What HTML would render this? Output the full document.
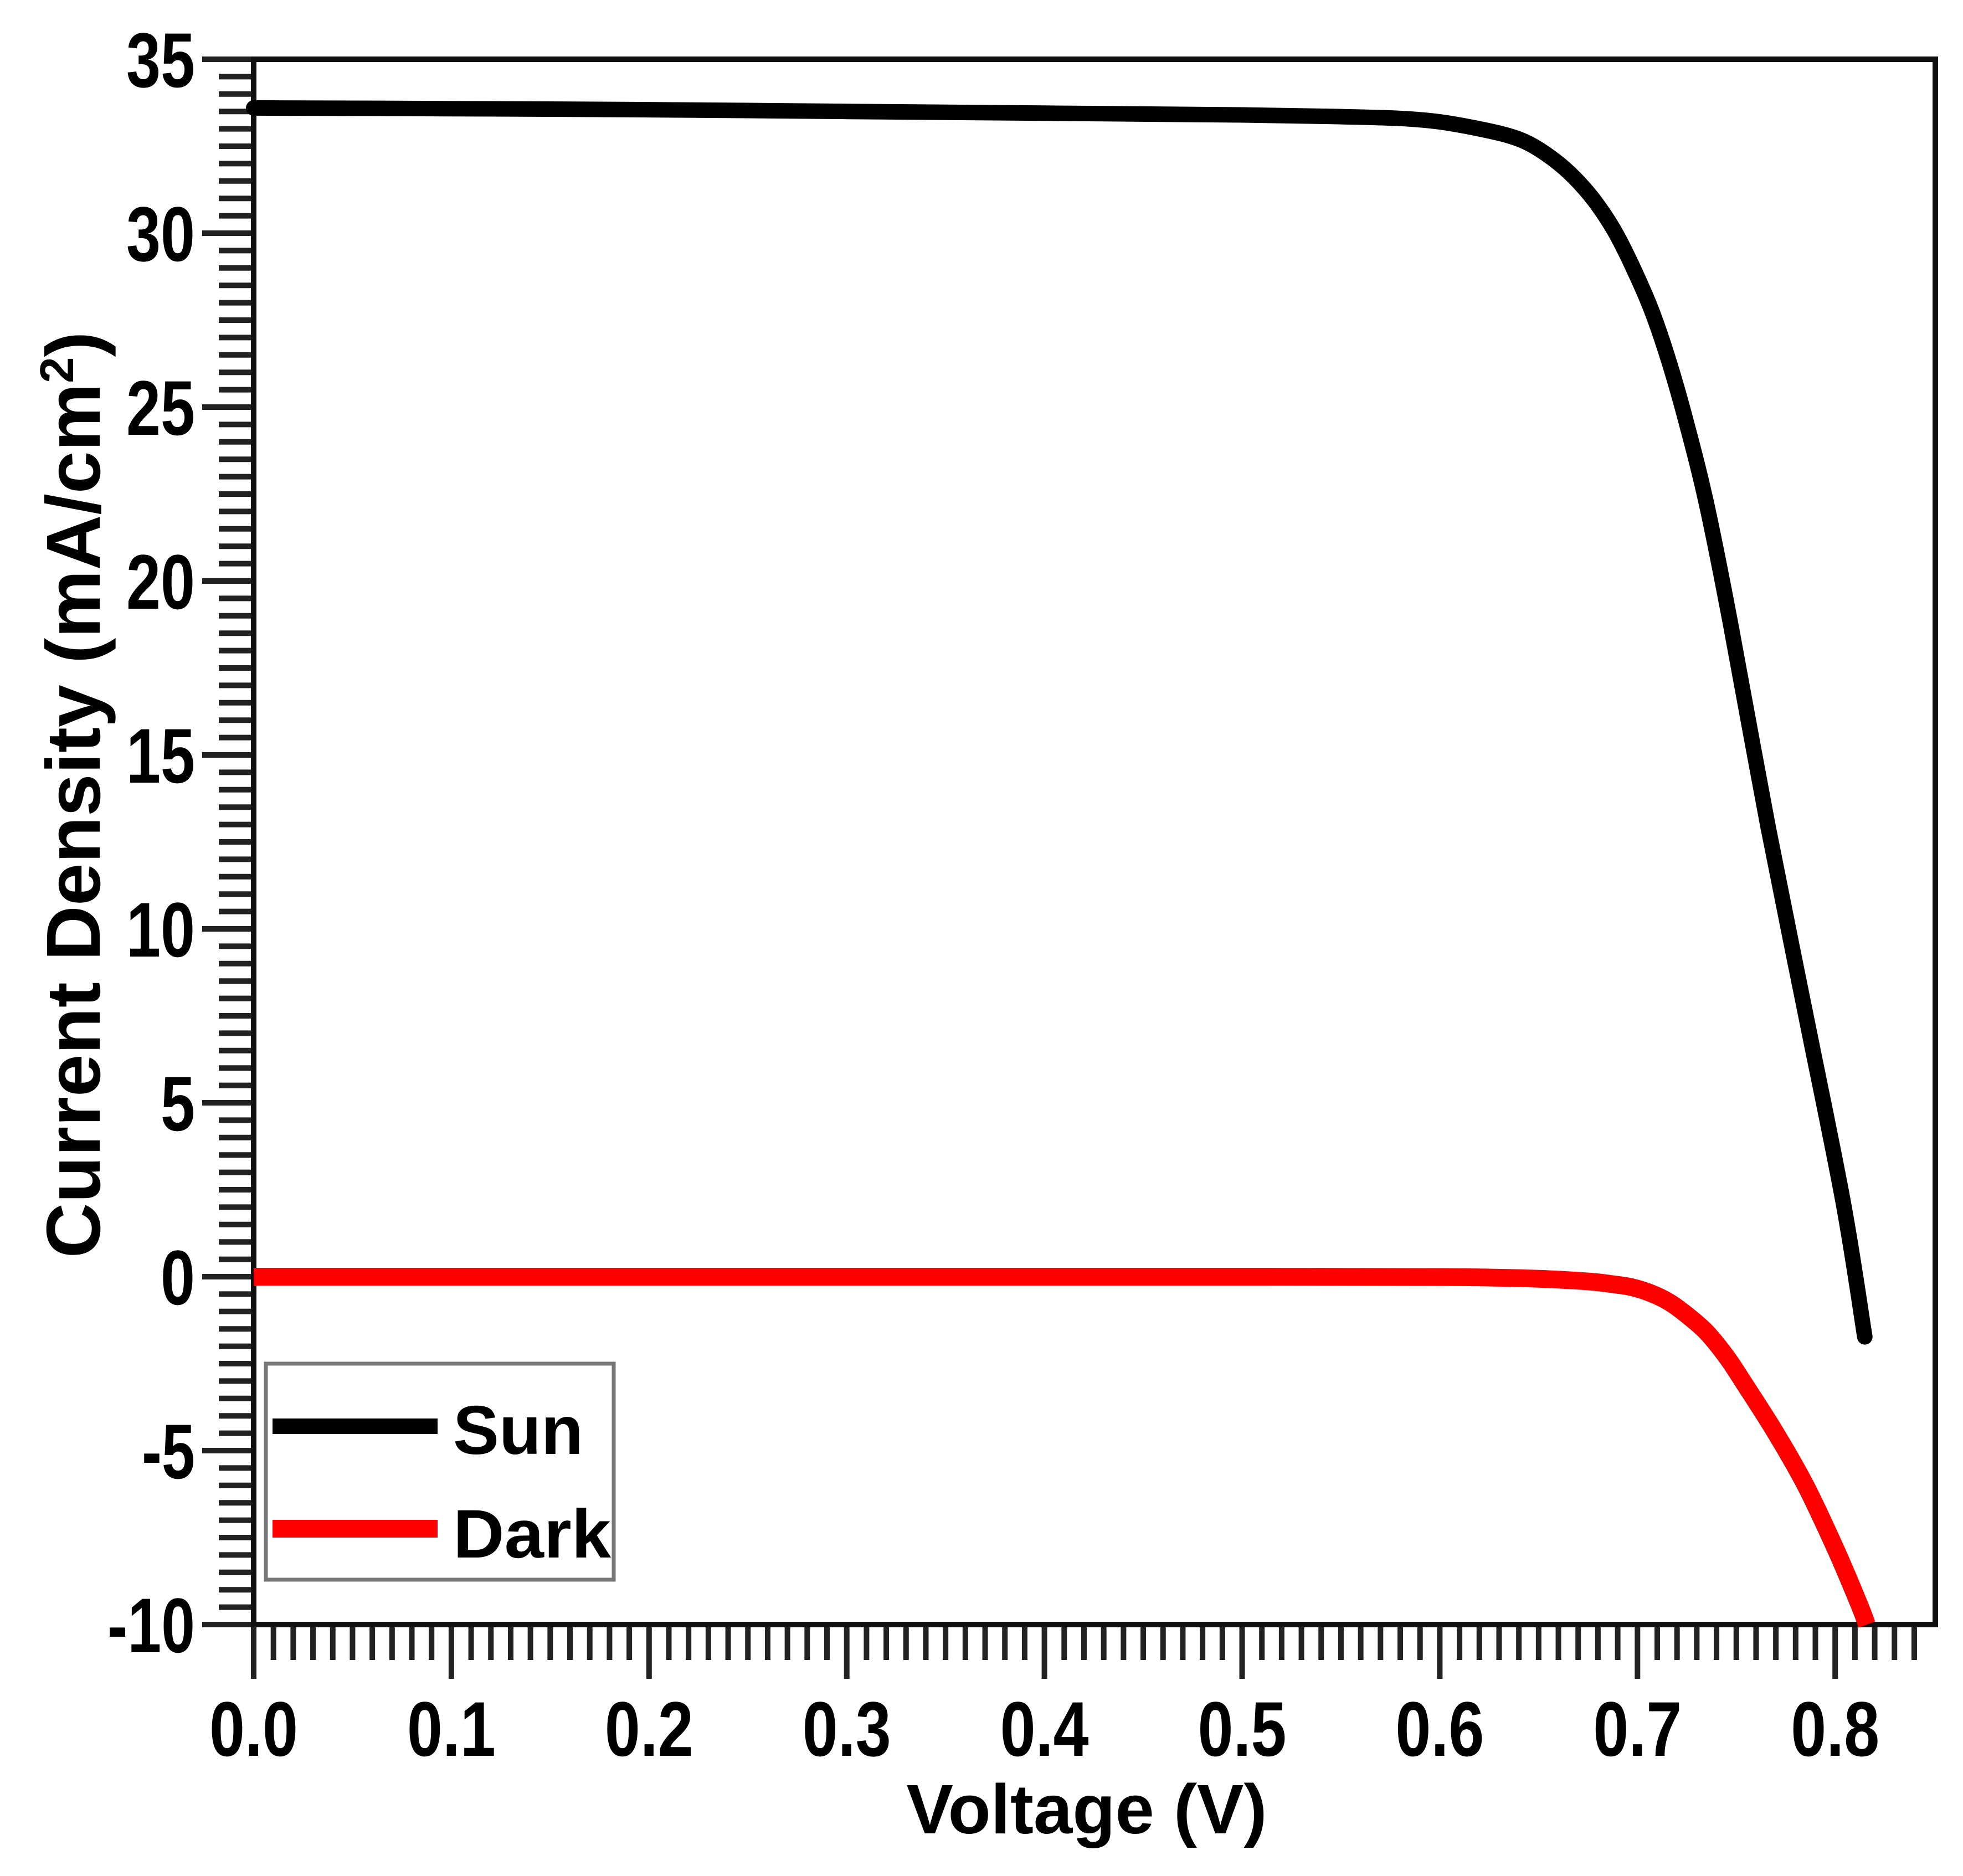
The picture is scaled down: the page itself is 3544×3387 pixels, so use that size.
<!DOCTYPE html>
<html><head><meta charset="utf-8"><style>
html,body{margin:0;padding:0;background:#fff;}
svg{display:block;}
text{font-family:"Liberation Sans",Arial,sans-serif;font-weight:bold;fill:#000;}
</style></head><body>
<svg id="chart" width="3544" height="3387" viewBox="0 0 3544 3387" xmlns="http://www.w3.org/2000/svg">
<g id="plot"></g>
</svg>
<script>
const xTicks = [0,0.1,0.2,0.3,0.4,0.5,0.6,0.7,0.8];
const xTickLabels = ["0.0","0.1","0.2","0.3","0.4","0.5","0.6","0.7","0.8"];
const yTicks = [35,30,25,20,15,10,5,0,-5,-10];
const yTickLabels = ["35","30","25","20","15","10","5","0","-5","-10"];
const sunV = [0,0.1,0.2,0.3,0.4,0.5,0.55,0.58,0.6,0.62,0.635,0.646,0.658,0.668,0.678,0.688,0.697,0.707,0.716,0.725,0.735,0.747,0.766,0.785,0.804,0.815];
const sunJ = [33.6,33.58,33.55,33.5,33.45,33.4,33.35,33.3,33.2,33.0,32.8,32.55,32.1,31.6,30.95,30.1,29.1,27.8,26.3,24.5,22.2,18.8,12.95,7.56,2.16,-1.73];
const darkV = [0,0.1,0.2,0.3,0.4,0.5,0.6,0.63,0.65,0.665,0.678,0.688,0.697,0.707,0.716,0.725,0.735,0.745,0.754,0.77,0.785,0.8,0.812,0.816];
const darkJ = [0,0,0,0,0,0,-0.01,-0.03,-0.06,-0.1,-0.15,-0.22,-0.3,-0.48,-0.73,-1.1,-1.6,-2.3,-3.07,-4.5,-6.0,-7.8,-9.4,-10];

const X0=458, XR=3494, YT=107, YB=2933;
const xScale = v => X0 + v*3569;
const yScale = j => YB - (j+10)*(YB-YT)/45;
const NS="http://www.w3.org/2000/svg";
const g=document.getElementById('plot');
function mk(tag,attrs){const e=document.createElementNS(NS,tag);for(const k in attrs)e.setAttribute(k,attrs[k]);g.appendChild(e);return e;}

for(let i=1;i<=86;i++){
  if(i%10===0) continue;
  const x=xScale(i*0.01); if(x>XR-5) break;
  const t=mk('line',{x1:x,y1:YB,x2:x,y2:YB+64,stroke:'#222','stroke-width':10});
  
  
}
for(let k=-95;k<=345;k+=5){
  if(k%50===0) continue;
  const y=yScale(k/10);
  const t=mk('line',{x1:X0-63,y1:y,x2:X0,y2:y,stroke:'#222','stroke-width':10});
  
  
}
xTicks.forEach((v,i)=>{
  const x=xScale(v);
  const t=mk('line',{x1:x,y1:YB,x2:x,y2:YB+98,stroke:'#222','stroke-width':10});
  
  
  const l=mk('text',{x:x,y:3170,'font-size':140,'text-anchor':'middle',textLength:160,lengthAdjust:'spacingAndGlyphs'});
  l.textContent=xTickLabels[i];
  
  
});
yTicks.forEach((j,i)=>{
  const y=yScale(j);
  const t=mk('line',{x1:X0-93,y1:y,x2:X0,y2:y,stroke:'#222','stroke-width':10});
  
  
  const s=yTickLabels[i];
  let w=0; for(const c of s) w+= (c==='-'?34:62);
  const l=mk('text',{x:352,y:y+50,'font-size':140,'text-anchor':'end',textLength:w,lengthAdjust:'spacingAndGlyphs'});
  l.textContent=s;
  
  
});
const fr=mk('rect',{x:X0,y:YT,width:XR-X0,height:YB-YT,fill:'none',stroke:'#111','stroke-width':10});



function path(V,J){
  const P=V.map((v,i)=>[xScale(v),yScale(J[i])]);
  let d='M'+P[0][0].toFixed(1)+','+P[0][1].toFixed(1);
  for(let i=0;i<P.length-1;i++){
    const p0=P[Math.max(i-1,0)],p1=P[i],p2=P[i+1],p3=P[Math.min(i+2,P.length-1)];
    const c1=[p1[0]+(p2[0]-p0[0])/6,p1[1]+(p2[1]-p0[1])/6];
    const c2=[p2[0]-(p3[0]-p1[0])/6,p2[1]-(p3[1]-p1[1])/6];
    d+=' C'+c1[0].toFixed(1)+','+c1[1].toFixed(1)+' '+c2[0].toFixed(1)+','+c2[1].toFixed(1)+' '+p2[0].toFixed(1)+','+p2[1].toFixed(1);
  }
  return d;
}
const sp=mk('path',{d:path(sunV,sunJ),fill:'none',stroke:'#000','stroke-width':28,'stroke-linejoin':'round','stroke-linecap':'round'});


const dp=mk('path',{d:path(darkV,darkJ),fill:'none',stroke:'#ff0000','stroke-width':32,'stroke-linejoin':'round'});



const lb=mk('rect',{x:480,y:2462,width:628,height:390,fill:'#fff',stroke:'#777','stroke-width':7});


const l1=mk('line',{x1:492,y1:2575,x2:790,y2:2575,stroke:'#000','stroke-width':28});


const t1=mk('text',{x:818,y:2625,'font-size':124,textLength:235,lengthAdjust:'spacingAndGlyphs'});t1.textContent='Sun';


const l2=mk('line',{x1:492,y1:2760,x2:790,y2:2760,stroke:'#ff0000','stroke-width':32});


const t2=mk('text',{x:818,y:2812,'font-size':124,textLength:285,lengthAdjust:'spacingAndGlyphs'});t2.textContent='Dark';



const xt=mk('text',{x:1962,y:3310,'font-size':126,'text-anchor':'middle',textLength:651,lengthAdjust:'spacingAndGlyphs'});
xt.textContent='Voltage (V)';


const yt=mk('text',{x:0,y:0,'font-size':138,'text-anchor':'middle',transform:'translate(180,1435) rotate(-90)'});
yt.innerHTML='Current Density (mA/cm<tspan dy="-48" font-size="85">2</tspan><tspan dy="48">)</tspan>';


</script>
</body></html>
